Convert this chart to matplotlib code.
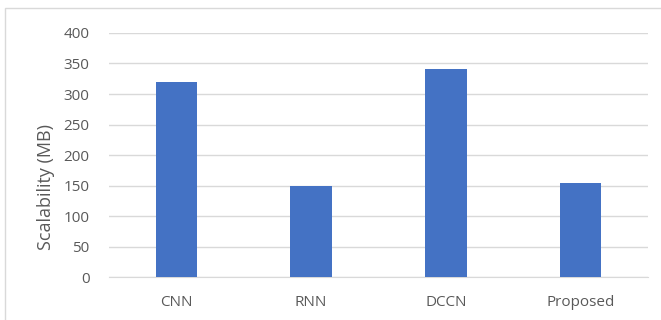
import numpy as np
import matplotlib.pyplot as plt
from matplotlib.patches import Rectangle

models = ["CNN", "RNN", "DCCN", "Proposed"]
scalability = [320, 149, 341, 154]
yticks = [0, 50, 100, 150, 200, 250, 300, 350, 400]

plt.rcParams['font.family'] = ['Open Sans', 'DejaVu Sans']

fig = plt.figure(figsize=(6.61, 3.2), dpi=100)
ax = fig.add_axes([0.165, 0.134, 0.815, 0.763])

x = np.arange(len(models))
ax.bar(x, scalability, width=0.31, color="#4472C4", zorder=3)

ax.set_xlim(-0.5, len(models) - 0.5)
ax.set_ylim(0, 400)
ax.set_yticks(yticks)
ax.set_xticks(x)
ax.set_xticklabels(models)
ax.yaxis.grid(True, color="#d9d9d9", linewidth=1, zorder=0)
for s in ["top", "right", "left"]:
    ax.spines[s].set_visible(False)
ax.spines["bottom"].set_color("#d9d9d9")
ax.tick_params(axis="both", length=0, labelsize=11, labelcolor="#595959")
ax.tick_params(axis="x", pad=13)
ax.tick_params(axis="y", pad=14)

fig.text(0.069, 0.415, "Scalability (MB)", rotation=90, ha="center", va="center",
         fontsize=13, color="#595959")

# light border around the chart area
fig.patches.append(Rectangle((5 / 661, -0.05), 1.0, 1 - 8 / 320 + 0.05,
                             transform=fig.transFigure, fill=False,
                             edgecolor="#d9d9d9", linewidth=1))

fig.savefig("out.png", dpi=100)
